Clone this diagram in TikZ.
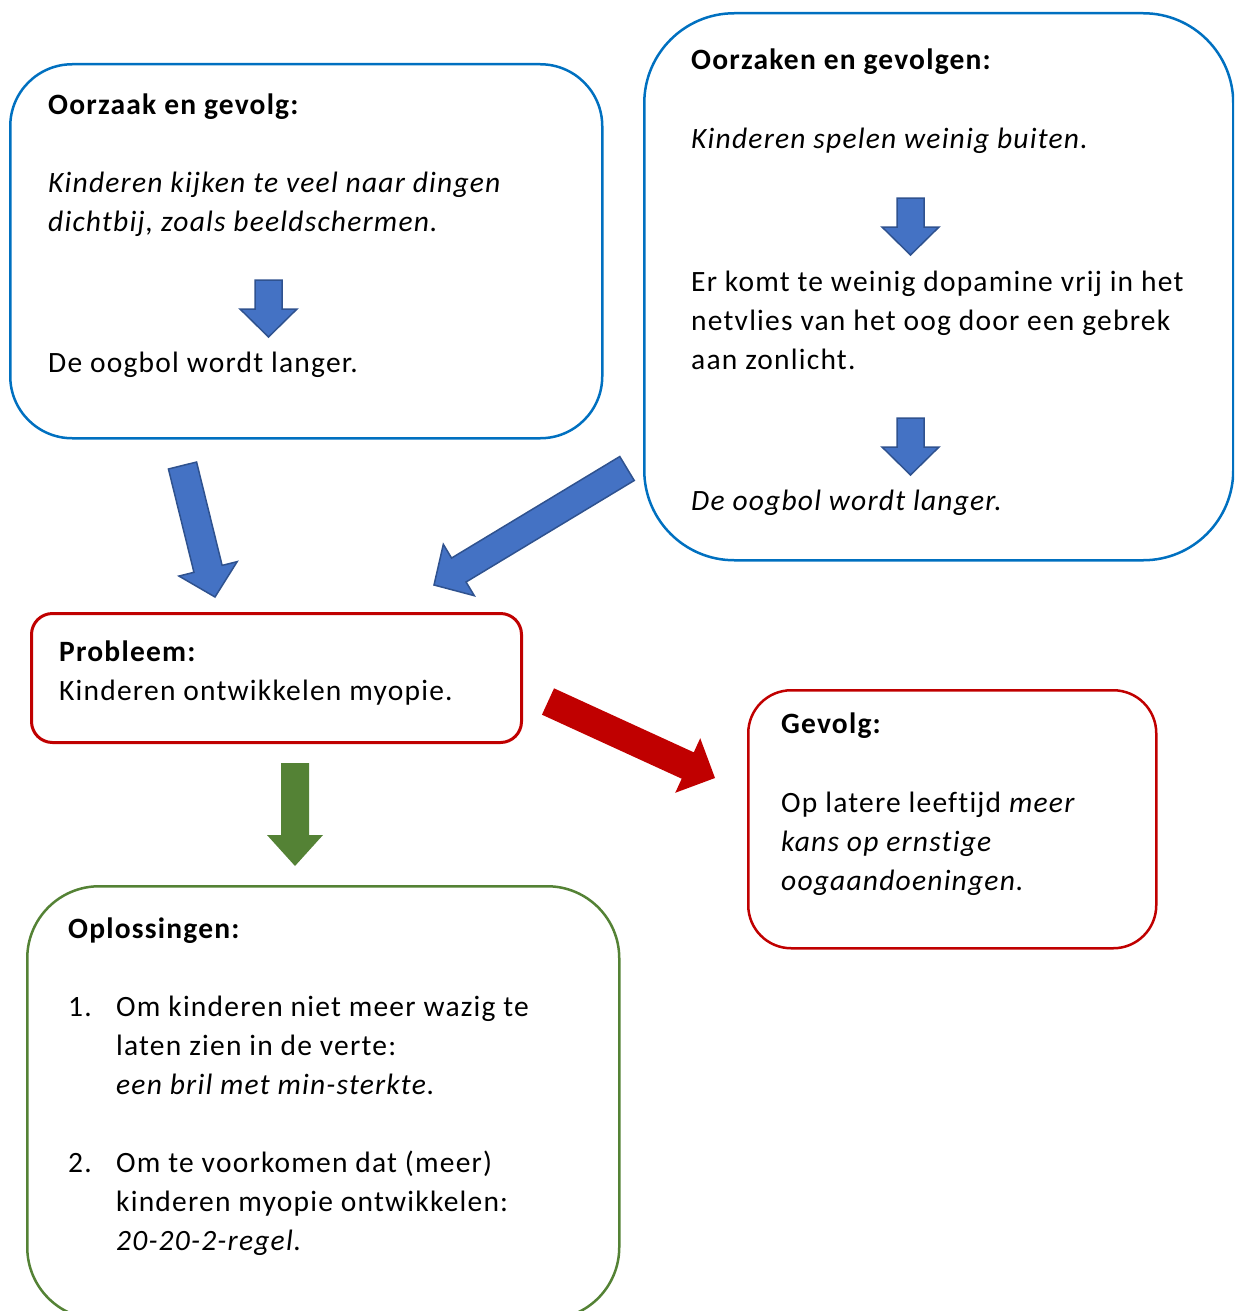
\documentclass[tikz,border=0pt]{standalone}
\usepackage{fontspec}
\setmainfont{Carlito}[LetterSpace=4.1,Ligatures=NoCommon]
\usetikzlibrary{positioning,calc}

\definecolor{kaderblauw}{HTML}{0070C0}
\definecolor{pijlblauw}{HTML}{4472C4}
\definecolor{randblauw}{HTML}{2F528F}
\definecolor{rood}{HTML}{C00000}
\definecolor{groen}{HTML}{548235}

% blokpijl: [stijl]{begin}{eind}{halve schacht}{halve kop}{koplengte}
\newcommand{\blokpijl}[6][]{%
	\coordinate (kopvoet) at ($(#3)!#6!(#2)$);
	\path[#1] ($(#2)!#4!90:(#3)$) -- ($(kopvoet)!#4!-90:(#2)$) -- ($(kopvoet)!#5!-90:(#2)$)
		-- (#3) -- ($(kopvoet)!#5!90:(#2)$) -- ($(kopvoet)!#4!90:(#2)$) -- ($(#2)!#4!-90:(#3)$) -- cycle;
}

\begin{document}
\begin{tikzpicture}[x=1pt,y=-1pt,
				kader/.style={draw,rectangle,line width=2.5pt,inner sep=0pt,anchor=north west},
				tekst/.style={anchor=base west,inner sep=0pt,font=\fontsize{29.5}{39}\selectfont},
				titel/.style={tekst,font=\fontsize{29.5}{39}\selectfont\bfseries},
				schuin/.style={tekst,font=\fontsize{29.5}{39}\selectfont\itshape},
				blauw/.style={fill=pijlblauw,draw=randblauw,line width=1.5pt},
				rodepijl/.style={fill=rood},
				groenepijl/.style={fill=groen}]
				\useasboundingbox (0,0) rectangle (1234,1311);
				\clip (0,0) rectangle (1234,1311);
				
				% kaders
				\node (oorzaak)   [kader,draw=kaderblauw,rounded corners=62pt,minimum width=592pt,minimum height=374pt] at (9,63)    {};
				\node (oorzaken)  [kader,draw=kaderblauw,rounded corners=90pt,minimum width=589pt,minimum height=547pt] at (643,12)  {};
				\node (probleem)  [kader,draw=rood,line width=3pt,rounded corners=21pt,minimum width=490pt,minimum height=129pt] at (30,612) {};
				\node (gevolg)    [kader,draw=rood,rounded corners=43pt,minimum width=408pt,minimum height=258pt] at (747,689) {};
				\node (oplossing) [kader,draw=groen,rounded corners=72pt,minimum width=592pt,minimum height=433pt] at (26,885) {};
				
				% teksten
				\node (t1a) [titel]  at (48,114) {Oorzaak en gevolg:};
				\node (t1b) [schuin] at (48,192) {Kinderen kijken te veel naar dingen};
				\node (t1c) [schuin] at (48,231) {dichtbij, zoals beeldschermen.};
				\node (t1d) [tekst]  at (48,372) {De oogbol wordt langer.};
				
				\node (t2a) [titel]  at (691,70)  {Oorzaken en gevolgen:};
				\node (t2b) [schuin] at (691,148) {Kinderen spelen weinig buiten.};
				\node (t2c) [tekst]  at (691,291) {Er komt te weinig dopamine vrij in het};
				\node (t2d) [tekst]  at (691,330) {netvlies van het oog door een gebrek};
				\node (t2e) [tekst]  at (691,369) {aan zonlicht.};
				\node (t2f) [schuin] at (691,510) {De oogbol wordt langer.};
				
				\node (t3a) [titel]  at (59,661) {Probleem:};
				\node (t3b) [tekst]  at (59,700) {Kinderen ontwikkelen myopie.};
				
				\node (t4a) [titel]  at (781,733) {Gevolg:};
				\node (t4b) [tekst]  at (781,812) {Op latere leeftijd \textit{meer}};
				\node (t4c) [schuin] at (781,851) {kans op ernstige};
				\node (t4d) [schuin] at (781,890) {oogaandoeningen.};
				
				\node (t5a) [titel]  at (68,938)   {Oplossingen:};
				\node (n1)  [tekst]  at (68,1016)  {1.};
				\node (t5b) [tekst]  at (116,1016) {Om kinderen niet meer wazig te};
				\node (t5c) [tekst]  at (116,1055) {laten zien in de verte:};
				\node (t5d) [schuin] at (116,1094) {een bril met min-sterkte.};
				\node (n2)  [tekst]  at (68,1172)  {2.};
				\node (t5e) [tekst]  at (116,1172) {Om te voorkomen dat (meer)};
				\node (t5f) [tekst]  at (116,1211) {kinderen myopie ontwikkelen:};
				\node (t5g) [schuin] at (116,1250) {20-20-2-regel.};
				
				% pijlen
				\coordinate (k1s) at (268.5,280);  \coordinate (k1e) at (268.5,337);
				\coordinate (k2s) at (910.5,198);  \coordinate (k2e) at (910.5,255);
				\coordinate (k3s) at (910.5,418);  \coordinate (k3e) at (910.5,475);
				\coordinate (g1s) at (182.5,465.5); \coordinate (g1e) at (215,597);
				\coordinate (g2s) at (627,468.5);  \coordinate (g2e) at (434,585);
				\coordinate (g3s) at (548,701.5);  \coordinate (g3e) at (715,778);
				\coordinate (g4s) at (295,763);    \coordinate (g4e) at (295,866);
				
				\blokpijl[blauw]{k1s}{k1e}{13.5pt}{28.5pt}{28pt}
				\blokpijl[blauw]{k2s}{k2e}{13.5pt}{28.5pt}{28pt}
				\blokpijl[blauw]{k3s}{k3e}{13.5pt}{28.5pt}{28pt}
				\blokpijl[blauw]{g1s}{g1e}{14.5pt}{30pt}{29pt}
				\blokpijl[blauw]{g2s}{g2e}{14pt}{30pt}{29pt}
				\blokpijl[rodepijl]{g3s}{g3e}{14.5pt}{30pt}{30pt}
				\blokpijl[groenepijl]{g4s}{g4e}{14pt}{28pt}{31pt}
			\end{tikzpicture}
\end{document}
